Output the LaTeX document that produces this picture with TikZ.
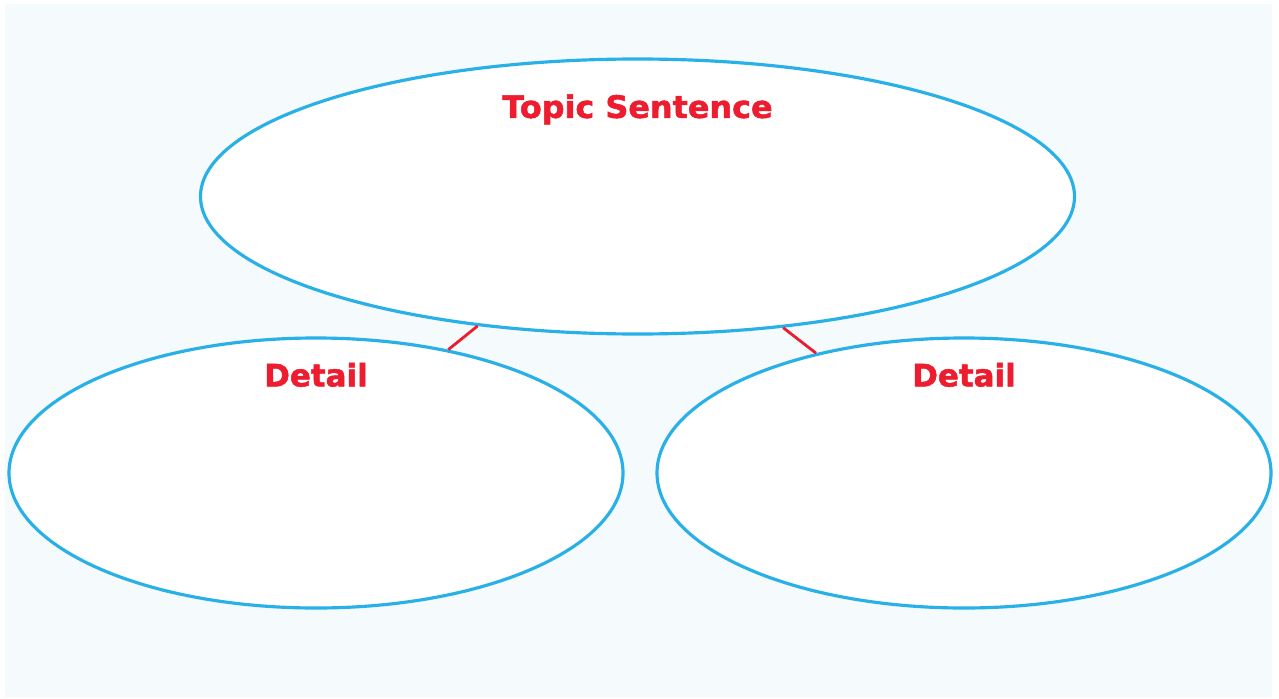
\documentclass[tikz,border=0pt]{standalone}
\usepackage{fontspec}
\newfontfamily\headfont{DejaVu Sans}[BoldFeatures={FakeBold=1.6}]
\usetikzlibrary{shapes.geometric, positioning}
\definecolor{bubbleblue}{HTML}{29B0E6}
\definecolor{labelred}{HTML}{ED1C2E}
\definecolor{paperblue}{HTML}{F5FAFD}

\begin{document}
\begin{tikzpicture}[node distance =2.765cm and 3.24cm, on grid]
      \tikzset{bubble/.style={ellipse, draw=bubbleblue, fill=white, line width=0.9pt, inner sep=0pt},
               heading/.style={text=labelred, anchor=base, inner sep=0pt, font=\headfont\bfseries\fontsize{8.8}{10}\selectfont},
               link/.style={draw=labelred, line width=0.8pt}}
      \useasboundingbox (0,0) rectangle (12.79,6.98);
      \fill[paperblue] (0.05,0.01) rectangle (12.72,6.94);
      \node[bubble, minimum width=8.74cm, minimum height=2.75cm] (topic) at (6.375,5.015) {};
      \node[bubble, minimum width=6.14cm, minimum height=2.70cm] (detailA) [below left = 2.765cm and 3.215cm of topic] {};
      \node[bubble, minimum width=6.14cm, minimum height=2.70cm] (detailB) [below right = 2.765cm and 3.265cm of topic] {};
      \node[heading, xscale=1.03] (topictext) at ([yshift=-0.605cm]topic.north) {Topic Sentence};
      \node[heading] (detailAtext) at ([yshift=-0.5cm]detailA.north) {Detail};
      \node[heading] (detailBtext) at ([yshift=-0.5cm]detailB.north) {Detail};
      \path[link] (topic.219) -- (detailA.43);
      \path[link] (topic.318) -- (detailB.141);
    \end{tikzpicture}
\end{document}
